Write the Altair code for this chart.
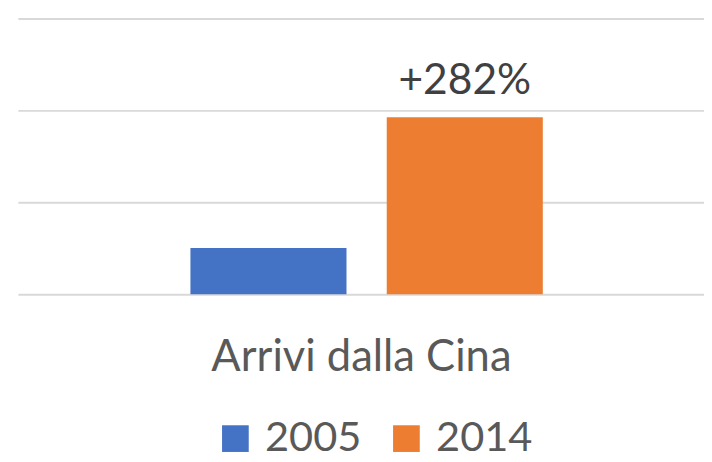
import altair as alt
import pandas as pd

years = ["2005", "2014"]
values = [0.504, 1.925]
labels = ["", "+282%"]
category = "Arrivi dalla Cina"
colors = ["#4472C4", "#ED7D31"]

df = pd.DataFrame({"year": years, "value": values, "label": labels})

FONT = "Lato"

x = alt.X(
    "year:N",
    scale=alt.Scale(paddingInner=0.205, paddingOuter=0.85, align=0.517),
    axis=alt.Axis(
        title=category, labels=False, ticks=False, domain=False,
        titleFontSize=44, titleColor="#595959", titleFont=FONT,
        titleFontWeight="normal", titleBaseline="alphabetic", titleY=77,
    ),
)
y = alt.Y(
    "value:Q",
    scale=alt.Scale(domain=[0, 3], nice=False),
    axis=alt.Axis(
        values=[0, 1, 2, 3], grid=True, gridColor="#d9d9d9", gridWidth=2,
        labels=False, ticks=False, domain=False, title=None,
    ),
)

bars = alt.Chart(df).mark_bar().encode(
    x=x,
    y=y,
    color=alt.Color(
        "year:N",
        scale=alt.Scale(domain=years, range=colors),
        legend=alt.Legend(
            title=None, orient="none", legendX=199, legendY=404,
            direction="horizontal", symbolType="square", symbolSize=729,
            symbolStrokeWidth=0, symbolOpacity=1, labelFontSize=42,
            labelFont=FONT, labelColor="#595959", labelOffset=9,
            columnPadding=24, padding=0,
        ),
    ),
)

text = alt.Chart(df).mark_text(
    dy=-24, baseline="alphabetic", fontSize=43, font=FONT, color="#404040"
).encode(x=x, y=y, text="label:N")

chart = (bars + text).properties(
    width=694, height=279,
    autosize=alt.AutoSizeParams(type="none"),
    padding={"left": 10, "top": 8, "right": 0, "bottom": 159},
).configure_view(stroke=None)

chart.save("out.html", embed_options={"renderer": "svg", "actions": False})
